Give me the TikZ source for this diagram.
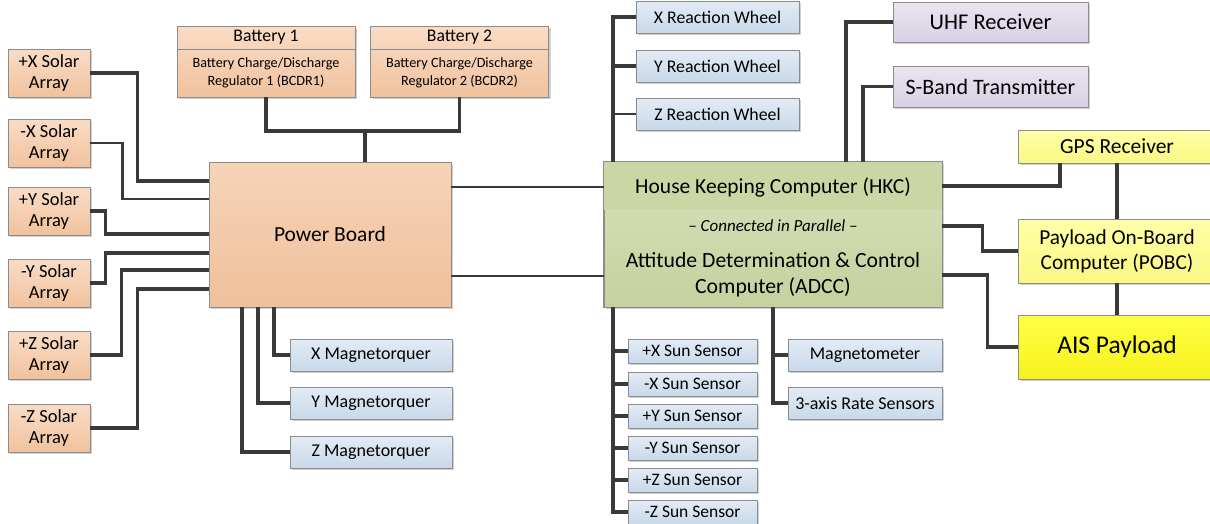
\documentclass[tikz,border=0pt]{standalone}
\usepackage{fontspec}
\setmainfont{Carlito}
\usetikzlibrary{shadows}
\definecolor{wire}{HTML}{3A3A3A}
\definecolor{edge}{HTML}{8C8C8C}
\definecolor{orangeT}{HTML}{F9DCC6}
\definecolor{orangeB}{HTML}{F1C29D}
\definecolor{pbT}{HTML}{F6D4B8}
\definecolor{pbB}{HTML}{F0C09A}
\definecolor{blueT}{HTML}{E3EBF5}
\definecolor{blueB}{HTML}{C8D9EA}
\definecolor{purpT}{HTML}{EAE5F0}
\definecolor{purpB}{HTML}{D8D0E3}
\definecolor{yellT}{HTML}{FFFFA8}
\definecolor{yellB}{HTML}{FAF882}
\definecolor{aisT}{HTML}{FFFF45}
\definecolor{aisB}{HTML}{F7F21E}
\definecolor{greenH}{HTML}{CBD6A5}
\definecolor{greenT}{HTML}{D8E1BC}
\definecolor{greenB}{HTML}{C5D19E}
\tikzset{
  box/.style={rectangle, draw=edge, line width=0.6pt, inner sep=1pt, align=center,
    drop shadow={shadow xshift=2pt, shadow yshift=-2pt, opacity=0.18, fill=black}},
  orange/.style={box, top color=orangeT, bottom color=orangeB},
  bluebox/.style={box, top color=blueT, bottom color=blueB},
  purplebox/.style={box, top color=purpT, bottom color=purpB},
  yellowbox/.style={box, top color=yellT, bottom color=yellB},
  aisbox/.style={box, top color=aisT, bottom color=aisB},
  wireA/.style={draw=wire, line width=3.4pt},
  wireB/.style={draw=wire, line width=2.5pt},
  solar/.style={orange, minimum width=82pt, minimum height=48pt, font=\fontsize{18.5}{21.5}\selectfont},
  mtq/.style={bluebox, minimum width=162pt, minimum height=32pt, font=\fontsize{18}{20}\selectfont},
  rw/.style={bluebox, minimum width=163pt, minimum height=32pt, font=\fontsize{17.8}{20}\selectfont},
  sun/.style={bluebox, minimum width=129pt, minimum height=24pt, font=\fontsize{17.5}{19}\selectfont},
  sens/.style={bluebox, minimum width=154pt, minimum height=32pt, font=\fontsize{18}{20}\selectfont},
  lbl/.style={inner sep=0pt, align=center},
}
\begin{document}
\begin{tikzpicture}[x=1pt,y=-1pt]
\useasboundingbox (0,0) rectangle (1210,523);
% ---------- solar arrays
\node[solar] (sxp) at (49,73) {+X Solar\\Array};
\node[solar] (sxm) at (49,143) {-X Solar\\Array};
\node[solar] (syp) at (49,211) {+Y Solar\\Array};
\node[solar] (sym) at (49,283) {-Y Solar\\Array};
\node[solar] (szp) at (49,355) {+Z Solar\\Array};
\node[solar] (szm) at (49,428) {-Z Solar\\Array};
% ---------- batteries
\node[orange, minimum width=178pt, minimum height=71pt] (b1) at (266,61.5) {};
\draw[edge, line width=0.8pt] (b1.north west |- 0,49) -- (b1.north east |- 0,49);
\node[lbl, font=\fontsize{17.7}{20}\selectfont] (b1t) at (266,37.5) {Battery 1};
\node[lbl, font=\fontsize{14.2}{17.5}\selectfont] (b1b) at (266,73) {Battery Charge/Discharge\\Regulator 1 (BCDR1)};
\node[orange, minimum width=178pt, minimum height=71pt] (b2) at (459.5,61.5) {};
\draw[edge, line width=0.8pt] (b2.north west |- 0,49) -- (b2.north east |- 0,49);
\node[lbl, font=\fontsize{17.7}{20}\selectfont] (b2t) at (459.5,37.5) {Battery 2};
\node[lbl, font=\fontsize{14.2}{17.5}\selectfont] (b2b) at (459.5,73) {Battery Charge/Discharge\\Regulator 2 (BCDR2)};
% ---------- power board
\node[box, top color=pbT, bottom color=pbB, minimum width=242pt, minimum height=145pt,
  font=\fontsize{21.5}{24}\selectfont] (pb) at (330,234.5) {Power Board};
% ---------- magnetorquers
\node[mtq] (mx) at (371,355) {X Magnetorquer};
\node[mtq] (my) at (371,403) {Y Magnetorquer};
\node[mtq] (mz) at (371,452) {Z Magnetorquer};
% ---------- reaction wheels
\node[rw] (rx) at (717.5,17) {X Reaction Wheel};
\node[rw] (ry) at (717.5,66) {Y Reaction Wheel};
\node[rw] (rz) at (717.5,114) {Z Reaction Wheel};
% ---------- HKC / ADCC
\node[box, top color=greenT, bottom color=greenB, minimum width=338pt, minimum height=145pt] (hkc) at (773,234.5) {};
\fill[greenH] (hkc.north west) rectangle (hkc.east |- 0,210);
\draw[edge, line width=0.6pt] (hkc.north west) rectangle (hkc.south east);
\node[lbl, font=\fontsize{21.5}{24}\selectfont] (hkct) at (773,187) {House Keeping Computer (HKC)};
\node[lbl, font=\fontsize{17}{19}\selectfont\itshape] (par) at (773,226) {– Connected in Parallel –};
\node[lbl, font=\fontsize{21.7}{26}\selectfont] (adcc) at (773,275) {Attitude Determination \& Control\\Computer (ADCC)};
% ---------- comms
\node[purplebox, minimum width=195pt, minimum height=40pt, font=\fontsize{22.5}{25}\selectfont] (uhf) at (990.5,22) {UHF Receiver};
\node[purplebox, minimum width=195pt, minimum height=41pt, font=\fontsize{22}{25}\selectfont] (sb) at (990.5,86.5) {S-Band Transmitter};
% ---------- payload
\node[yellowbox, minimum width=198pt, minimum height=33pt, font=\fontsize{21.5}{24}\selectfont] (gps) at (1117,146.5) {GPS Receiver};
\node[yellowbox, minimum width=198pt, minimum height=64pt, font=\fontsize{21.3}{25}\selectfont] (pobc) at (1117,251) {Payload On-Board\\Computer (POBC)};
\node[aisbox, minimum width=198pt, minimum height=64pt, font=\fontsize{25.5}{28}\selectfont] (ais) at (1117,347) {AIS Payload};
% ---------- sun sensors
\node[sun] (ssxp) at (692.5,351) {+X Sun Sensor};
\node[sun] (ssxm) at (692.5,384) {-X Sun Sensor};
\node[sun] (ssyp) at (692.5,416) {+Y Sun Sensor};
\node[sun] (ssym) at (692.5,448) {-Y Sun Sensor};
\node[sun] (sszp) at (692.5,480) {+Z Sun Sensor};
\node[sun] (sszm) at (692.5,512) {-Z Sun Sensor};
\node[sens] (mag) at (865,355) {Magnetometer};
\node[sens] (rate) at (865,403) {3-axis Rate Sensors};
% ---------- connectors
% batteries
\coordinate (bj) at (365,131);
\draw[wireA] (b1.south) |- (bj) -| (b2.south);
\draw[wireA] (bj) -- (pb.north -| bj);
% solar arrays
\draw[wireA] (sxp.east) -- ++(47,0) |- (pb.west |- 0,181);
\draw[wireB] (sxm.east) -- ++(32,0) |- (pb.west |- 0,199);
\draw[wireA] (syp.east) -- ++(15,0) |- (pb.west |- 0,234);
\draw[wireA] (sym.east) -- ++(15,0) |- (pb.west |- 0,253);
\draw[wireA] (szp.east) -- ++(31,0) |- (pb.west |- 0,270);
\draw[wireA] (szm.east) -- ++(47,0) |- (pb.west |- 0,289);
% power board to HKC
\draw[wireB] (pb.east |- 0,187) -- (hkc.west |- 0,187);
\draw[wireB] (pb.east |- 0,276) -- (hkc.west |- 0,276);
% magnetorquers
\draw[wireA] (pb.south -| 274,0) |- (mx.west);
\draw[wireA] (pb.south -| 258,0) |- (my.west);
\draw[wireA] (pb.south -| 242,0) |- (mz.west);
% reaction wheels
\draw[wireA] (rx.west) -| (hkc.north -| 613,0);
\draw[wireA] (ry.west) -- (ry.west -| 613,0);
\draw[wireB] (rz.west) -- (rz.west -| 613,0);
% comms
\draw[wireA] (uhf.west) -| (hkc.north -| 846,0);
\draw[wireA] (sb.west) -| (hkc.north -| 863,0);
% payload
\draw[wireA] (hkc.east |- 0,186) -| (gps.south -| 1060,0);
\draw[wireA] (gps.south) -- (pobc.north);
\draw[wireA] (pobc.south) -- (ais.north);
\draw[wireA] (hkc.east |- 0,226) -- ++(40,0) |- (pobc.west);
\draw[wireA] (hkc.east |- 0,275) -- ++(45,0) |- (ais.west);
% sun sensors
\draw[wireA] (hkc.south -| 613,0) |- (sszm.west);
\foreach \s in {ssxp,ssxm,ssyp,ssym,sszp}{\draw[wireA] (\s.west) -- (\s.west -| 613,0);}
% magnetometer / rate
\draw[wireA] (hkc.south -| 773,0) |- (rate.west);
\draw[wireA] (mag.west) -- (mag.west -| 773,0);
\end{tikzpicture}
\end{document}
